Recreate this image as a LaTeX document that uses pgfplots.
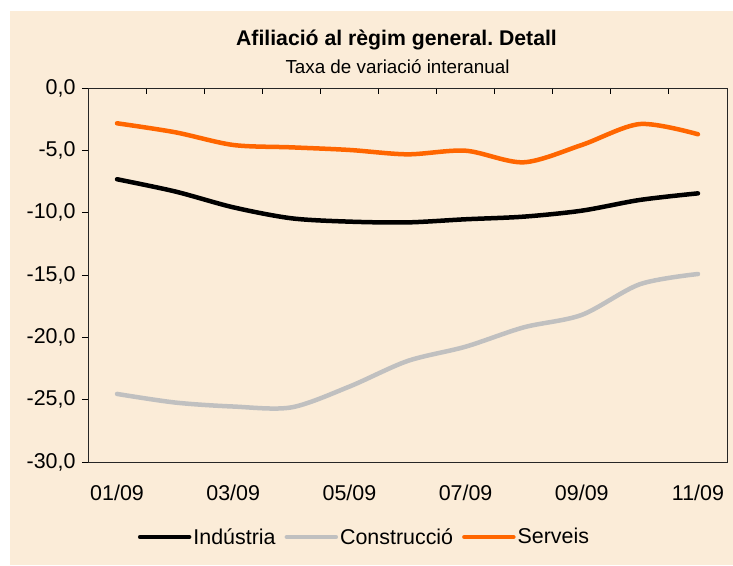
\documentclass[border=0pt]{standalone}
\usepackage{fontspec}
\setmainfont{Liberation Sans}
\usepackage{pgfplots}
\pgfplotsset{compat=1.18}
\definecolor{bgcream}{HTML}{FBECD8}
\definecolor{serv}{HTML}{FF6600}
\definecolor{cons}{HTML}{C0C0C0}
\frenchspacing

\begin{document}
\begin{tikzpicture}
\fill[white] (0bp,0bp) rectangle (733bp,566bp);
\fill[bgcream] (10bp,1bp) rectangle (733bp,555bp);
\useasboundingbox (0bp,0bp) rectangle (733bp,566bp);
\node[font=\fontsize{21.3}{25}\selectfont\bfseries] at (396.5bp,526bp) {Afiliació al règim general. Detall};
\node[font=\fontsize{18.9}{22}\selectfont] at (397.5bp,499bp) {Taxa de variació interanual};
\begin{axis}[at={(88bp,104bp)}, anchor=south west, scale only axis,
  width=639bp, height=374bp,
  xmin=0.5, xmax=11.5, ymin=-30, ymax=0,
  axis background/.style={fill=bgcream},
  axis line style={black!85, line width=0.9bp},
  xtick={1,3,5,7,9,11},
  xticklabels={01/09,03/09,05/09,07/09,09/09,11/09},
  minor xtick={1.5,2.5,...,10.5},
  xtick pos=upper, xticklabel pos=lower,
  major tick length=6bp, minor tick length=6bp,
  major x tick style={draw=none},
  minor x tick style={line width=0.9bp, black},
  xtick align=inside,
  ytick={-30,-25,...,0},
  ytick pos=left, ytick align=outside,
  y tick style={line width=0.9bp, black},
  yticklabel style={/pgf/number format/fixed, /pgf/number format/fixed zerofill,
    /pgf/number format/precision=1, /pgf/number format/use comma, xshift=-3bp},
  /pgf/number format/assume math mode=true,
  tick label style={font=\fontsize{21.5}{25}\selectfont},
  xticklabel style={yshift=-19bp},
  legend style={at={(0.4327,-0.2005)}, anchor=center, draw=none, fill=none,
    font=\fontsize{21.5}{25}\selectfont, legend columns=-1,
    /tikz/every even column/.append style={column sep=7bp}},
  legend image code/.code={\draw[#1, line width=4.5bp, line cap=round] (0bp,0bp) -- (49bp,0bp);},
]
\addplot[black, line width=4.5bp, smooth, line cap=round] coordinates {
(1,-7.32) (2,-8.3) (3,-9.57) (4,-10.45) (5,-10.72) (6,-10.78) (7,-10.53) (8,-10.32) (9,-9.84) (10,-8.98) (11,-8.45)};
\addlegendentry{Indústria}
\addplot[cons, line width=4.5bp, smooth, line cap=round] coordinates {
(1,-24.54) (2,-25.23) (3,-25.55) (4,-25.62) (5,-23.95) (6,-21.9) (7,-20.75) (8,-19.2) (9,-18.2) (10,-15.74) (11,-14.92)};
\addlegendentry{Construcció}
\addplot[serv, line width=4.5bp, smooth, line cap=round] coordinates {
(1,-2.83) (2,-3.55) (3,-4.57) (4,-4.76) (5,-4.97) (6,-5.32) (7,-5.03) (8,-5.96) (9,-4.57) (10,-2.89) (11,-3.71)};
\addlegendentry{Serveis}
\end{axis}
\end{tikzpicture}
\end{document}
